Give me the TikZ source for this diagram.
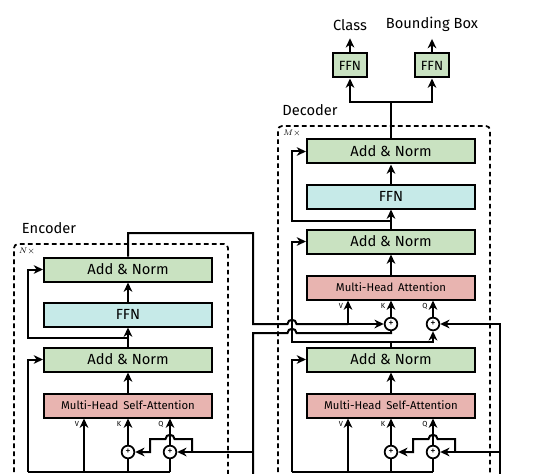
\documentclass[tikz,border=0pt]{standalone}
\usepackage{fontspec}
\setmainfont{Fira Sans}
\usetikzlibrary{arrows.meta}

\definecolor{normGreen}{RGB}{201,226,193}
\definecolor{ffnCyan}{RGB}{198,234,232}
\definecolor{attnRed}{RGB}{232,180,176}

\tikzset{every picture/.style={line width=1.5pt}}
\tikzset{
  block/.style={draw, line width=1.5pt, minimum width=126pt, minimum height=18pt, inner sep=0pt, font=\fontsize{11}{13}\selectfont},
  normbox/.style={block, fill=normGreen},
  ffnbox/.style={block, fill=ffnCyan},
  attnbox/.style={block, fill=attnRed, font=\fontsize{8.5}{10}\selectfont},
  headbox/.style={draw, line width=1.5pt, fill=normGreen, minimum width=25pt, minimum height=18pt, inner sep=0pt, font=\fontsize{10}{12}\selectfont},
  addnode/.style={circle, draw, line width=1.3pt, fill=white, minimum size=9.5pt, inner sep=0pt, font=\fontsize{8}{8}\selectfont},
  arr/.style={-{Stealth[length=7pt,width=6.5pt,inset=2.2pt]}},
  qkv/.style={font=\fontsize{5.5}{6}\selectfont, inner sep=0pt},
  title/.style={font=\fontsize{11}{13}\selectfont, inner sep=0pt},
  stack/.style={line width=1.3pt, dash pattern=on 3.5pt off 2.5pt, rounded corners=3pt},
}

\begin{document}
\begin{tikzpicture}[x=0.75pt,y=0.75pt,yscale=-1,xscale=1]
\path[use as bounding box] (0,0) rectangle (535,474);

%Shape: Dashed stacks
\draw[stack] (14,480) -- (14,244) -- (228,244) -- (228,480);
\draw[stack] (278,480) -- (278,126) -- (490,126) -- (490,480);

% Text Node
\node[title] (encTitle) at (49,228) {Encoder};
\node[title] (decTitle) at (310,110) {Decoder};
\node[inner sep=0pt, font=\fontsize{6}{6}\selectfont] (encRep) at (27,251) {$N\times$};
\node[inner sep=0pt, font=\fontsize{6}{6}\selectfont] (decRep) at (292,133) {$M\times$};

%Encoder blocks
\node[normbox] (encNorm2) at (128,269.5) {Add \& Norm};
\node[ffnbox] (encFFN) at (128,314.5) {FFN};
\node[normbox] (encNorm1) at (128,359.5) {Add \& Norm};
\node[attnbox] (encSA) at (128,405.5) {Multi-Head\, Self-Attention};
\node[addnode] (encAddK) at (128,452) {+};
\node[addnode] (encAddQ) at (170,452) {+};
\node[qkv] (encVl) at (77,424) {V};
\node[qkv] (encKl) at (119,424) {K};
\node[qkv] (encQl) at (161,424) {Q};

%Decoder blocks
\node[normbox] (decNorm3) at (391,151.5) {Add \& Norm};
\node[ffnbox] (decFFN) at (391,196.5) {FFN};
\node[normbox] (decNorm2) at (391,241.5) {Add \& Norm};
\node[attnbox] (decCA) at (391,287.5) {Multi-Head\, Attention};
\node[addnode] (decAddK) at (391,324) {+};
\node[addnode] (decAddQ) at (433,324) {+};
\node[normbox] (decNorm1) at (391,359.5) {Add \& Norm};
\node[attnbox] (decSA) at (391,405.5) {Multi-Head\, Self-Attention};
\node[addnode] (decSAddK) at (391,452) {+};
\node[addnode] (decSAddQ) at (433,452) {+};
\node[qkv] (decVl) at (341,306) {V};
\node[qkv] (decKl) at (383,306) {K};
\node[qkv] (decQl) at (425,306) {Q};
\node[qkv] (decSVl) at (341,424) {V};
\node[qkv] (decSKl) at (383,424) {K};
\node[qkv] (decSQl) at (425,424) {Q};

%Prediction heads
\node[headbox] (clsFFN) at (350,65.5) {FFN};
\node[headbox] (boxFFN) at (432,65.5) {FFN};
\node[title] (clsLbl) at (350,25) {Class};
\node[title] (boxLbl) at (432,24) {Bounding Box};

%Coordinates
\coordinate (encIn) at (28,472);
\coordinate (encV) at (84,472);
\coordinate (encJ) at (128,338);
\coordinate (memTurn) at (253,233);
\coordinate (encPos) at (253,333);
\coordinate (decIn) at (292,472);
\coordinate (decSV) at (348,472);
\coordinate (decV) at (348,324);
\coordinate (decJ1) at (391,342);
\coordinate (decJ2) at (391,221);
\coordinate (decPos) at (500,476);
\coordinate (split) at (391,102);

%Encoder connectors
\draw (encIn) -- (encIn -| encAddQ);
\draw[arr] (encIn) |- (encNorm1.west);
\draw[arr] (encV) -- (encV |- encSA.south);
\draw (encIn -| encAddK) -- (encAddK);
\draw (encIn -| encAddQ) -- (encAddQ);
\draw[arr] (encAddK) -- (encAddK |- encSA.south);
\draw[arr] (encAddQ) -- (encAddQ |- encSA.south);
\draw[arr] (192,452) -- (192,439) -- (174.5,439) .. controls (174.5,433.5) and (165.5,433.5) .. (165.5,439) -- (150,439) -- (150,452) -- (encAddK);
\draw[arr] (encSA) -- (encNorm1);
\draw[arr] (encNorm1) -- (encFFN);
\draw[arr] (encFFN) -- (encNorm2);
\draw[arr] (encJ) -- (28,338) |- (encNorm2.west);

%Memory and positional encoding
\draw (encNorm2.north) |- (memTurn) -- (253,324) -- (287.5,324) .. controls (287.5,318.5) and (296.5,318.5) .. (296.5,324) -- (decV);
\draw[arr] (decV) -- (decAddK);
\draw[arr] (decV) -- (decV |- decCA.south);
\draw (253,476) -- (encPos) -- (287.5,333) .. controls (287.5,327.5) and (296.5,327.5) .. (296.5,333) -- (391,333) -- (decAddK);
\draw[arr] (encPos |- encAddQ) -- (encAddQ);

%Decoder connectors
\draw (decIn) -- (decIn -| decSAddQ);
\draw[arr] (decIn) |- (decNorm1.west);
\draw[arr] (decSV) -- (decSV |- decSA.south);
\draw (decIn -| decSAddK) -- (decSAddK);
\draw (decIn -| decSAddQ) -- (decSAddQ);
\draw[arr] (decSAddK) -- (decSAddK |- decSA.south);
\draw[arr] (decSAddQ) -- (decSAddQ |- decSA.south);
\draw[arr] (455,452) -- (455,439) -- (437.5,439) .. controls (437.5,433.5) and (428.5,433.5) .. (428.5,439) -- (413,439) -- (413,452) -- (decSAddK);
\draw[arr] (decPos) |- (decAddQ);
\draw[arr] (decPos |- decSAddQ) -- (decSAddQ);
\draw[arr] (decSA) -- (decNorm1);
\draw (decNorm1.north) -- (decJ1);
\draw[arr] (decJ1) -| (decAddQ);
\draw[arr] (decJ1) -- (292,342) |- (decNorm2.west);
\draw[arr] (decAddK) -- (decCA.south);
\draw[arr] (decAddQ) -- (decAddQ |- decCA.south);
\draw[arr] (decCA) -- (decNorm2);
\draw[arr] (decNorm2) -- (decFFN);
\draw[arr] (decFFN) -- (decNorm3);
\draw[arr] (decJ2) -- (292,221) |- (decNorm3.west);

%Heads
\draw (decNorm3.north) -- (split);
\draw[arr] (split) -| (clsFFN);
\draw[arr] (split) -| (boxFFN);
\draw[arr] (clsFFN) -- (clsLbl.south) [shorten >=5pt];
\draw[arr] (boxFFN) -- (boxLbl.south) [shorten >=5pt];

\end{tikzpicture}
\end{document}
